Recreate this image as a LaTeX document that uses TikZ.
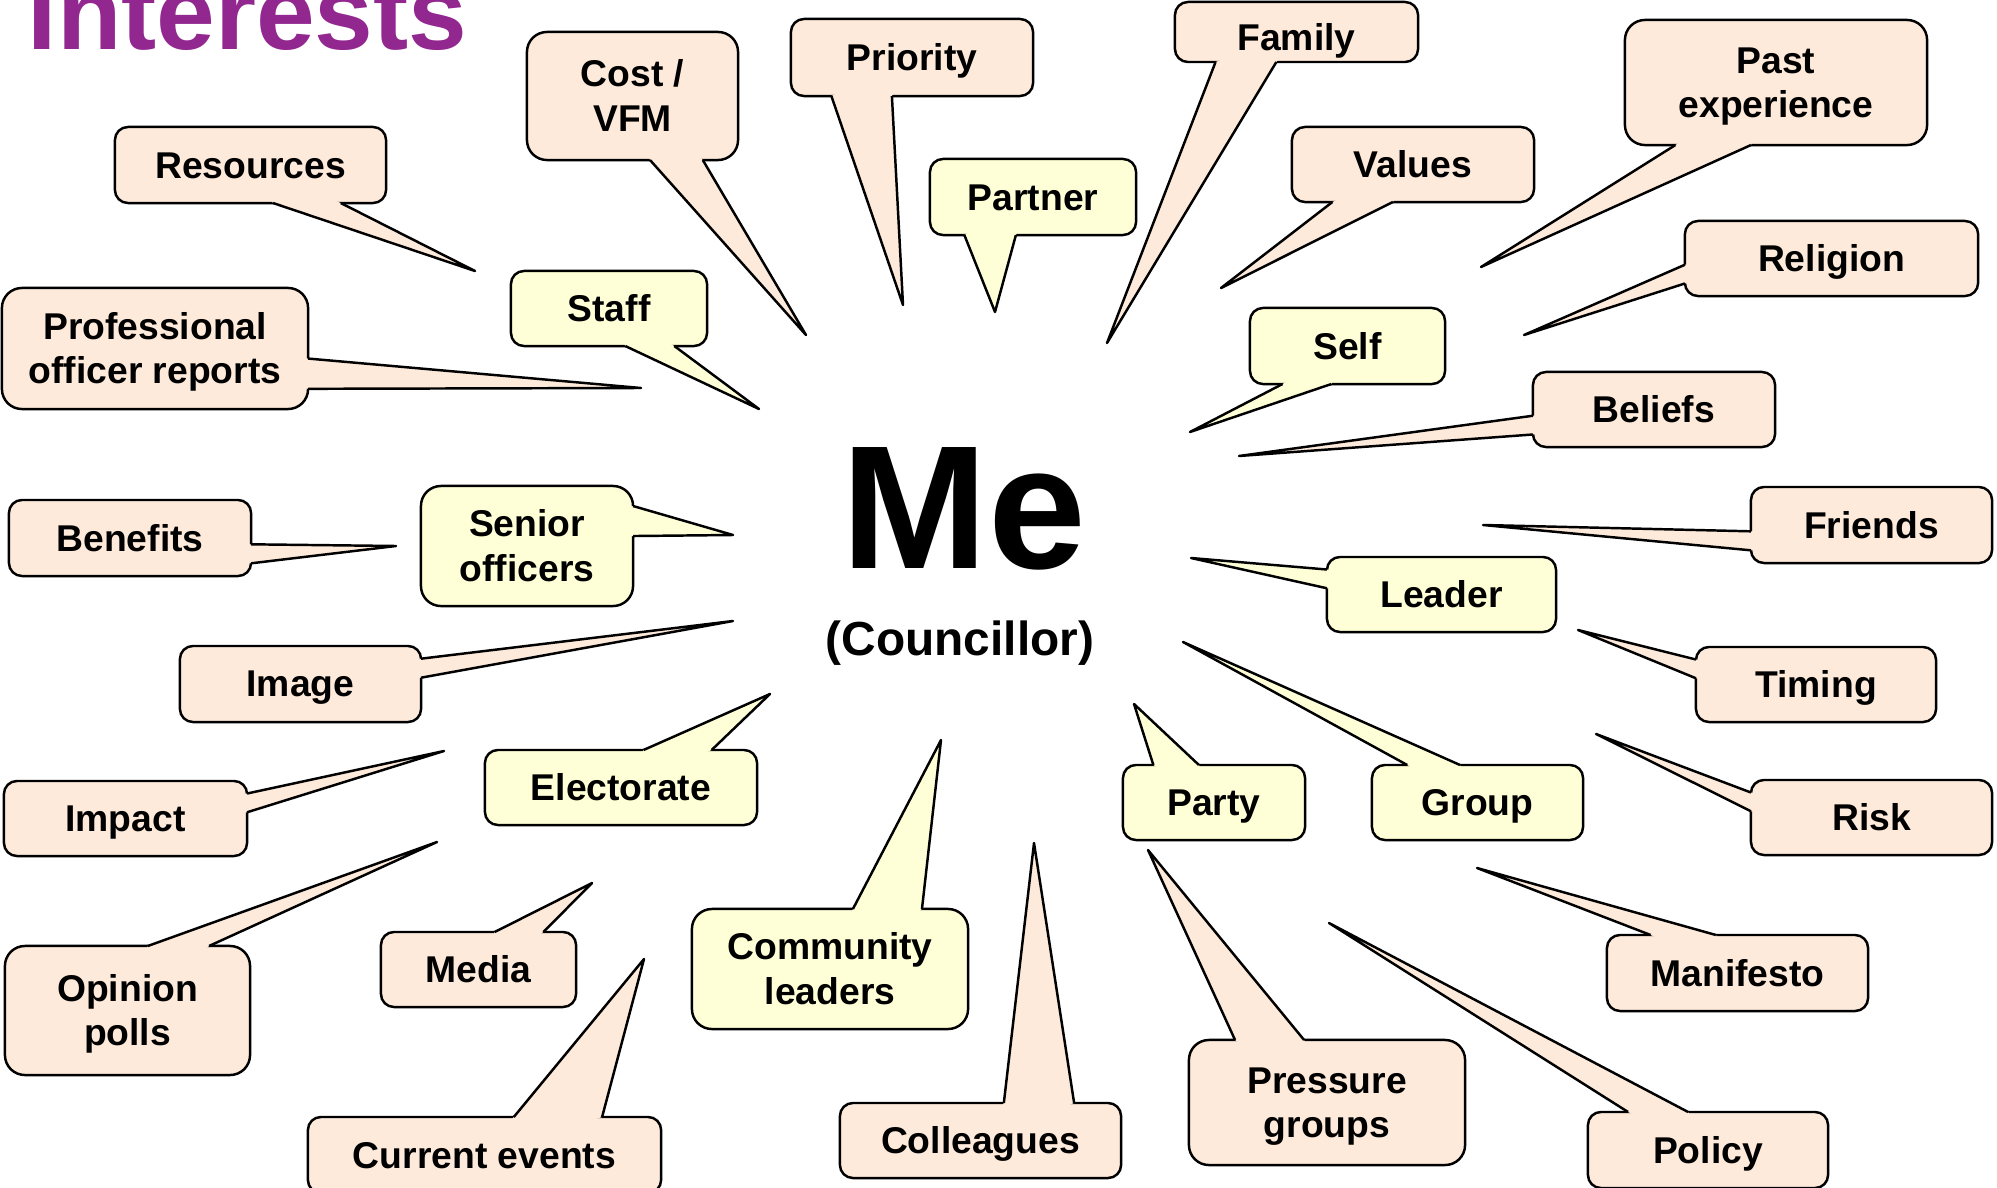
\documentclass[tikz,border=0pt]{standalone}
\usepackage{fontspec}
\setmainfont{Liberation Sans}
\usepackage{xcolor}
\usetikzlibrary{calc}

\definecolor{peach}{RGB}{253,234,218}
\definecolor{cream}{RGB}{255,255,215}
\definecolor{plum}{RGB}{146,39,143}

% line box of one text line, as the slide sets it
\newcommand{\linestrut}{\rule[-0.205em]{0pt}{1.11em}}
% wedge of a callout: node, edge from/to anchors, base fractions, tip, fill
\newcommand{\pointer}[7]{%
  \coordinate (#1-a) at ($(#1.#2)!#4!(#1.#3)$);
  \coordinate (#1-b) at ($(#1.#2)!#5!(#1.#3)$);
  \fill[#7] ($(#1-a)!2pt!(#1.center)$) -- (#1-a) -- #6 -- (#1-b) -- ($(#1-b)!2pt!(#1.center)$) -- cycle;
  \draw[line width=0.7pt, line join=round] (#1-a) -- #6 -- (#1-b);
}

\begin{document}
\begin{tikzpicture}[
        x=0.01cm, y=-0.01cm,
        bubble/.style={draw, line width=0.7pt, outer sep=0pt, inner sep=0pt,
            rounded corners=1.3mm, align=center,
            font=\fontsize{10.6}{12.6}\selectfont\bfseries,
            execute at begin node=\linestrut},
        tan/.style={bubble, fill=peach},
        pale/.style={bubble, fill=cream},
        tall/.style={rounded corners=2mm, execute at begin node={}}
    ]
    \useasboundingbox (0,0) rectangle (1997,1188);

    % Title and centre
    \node[anchor=base west, inner sep=0pt, text=plum,
        font=\fontsize{30}{36}\selectfont\bfseries] (title) at (27,50) {Interests};
    \node[anchor=base, inner sep=0pt,
        font=\fontsize{50}{60}\selectfont\bfseries] (me) at (964,568) {Me};
    \node[anchor=base, inner sep=0pt,
        font=\fontsize{13.6}{15}\selectfont\bfseries] (role) at (960,655) {(Councillor)};

    % Upper left
    \node[tan, minimum width=2.71cm, minimum height=0.76cm] (res) at (250.5,165) {Resources};
    \pointer{res}{south west}{south east}{.583}{.833}{(475,271)}{peach}
    \node[tan, tall, minimum width=2.11cm, minimum height=1.28cm] (cost) at (632.5,96) {\linestrut Cost /\\VFM\linestrut};
    \pointer{cost}{south west}{south east}{.583}{.833}{(806,335)}{peach}
    \node[tan, minimum width=2.42cm, minimum height=0.77cm] (prio) at (912,57.5) {Priority};
    \pointer{prio}{south west}{south east}{.167}{.417}{(903,305)}{peach}
    \node[pale, minimum width=2.06cm, minimum height=0.76cm] (partner) at (1033,197) {Partner};
    \pointer{partner}{south west}{south east}{.167}{.417}{(995,312)}{cream}
    \node[pale, minimum width=1.96cm, minimum height=0.75cm] (staff) at (609,308.5) {Staff};
    \pointer{staff}{south west}{south east}{.583}{.833}{(759,409)}{cream}
    \node[tan, tall, minimum width=3.06cm, minimum height=1.21cm] (prof) at (155,348.5) {\linestrut Professional\\officer reports\linestrut};
    \pointer{prof}{north east}{south east}{.583}{.833}{(641,388)}{peach}

    % Upper right
    \node[tan, minimum width=2.43cm, minimum height=0.60cm] (family) at (1296.5,32) {\raisebox{-0.055cm}[0pt][0pt]{Family}};
    \pointer{family}{south west}{south east}{.167}{.417}{(1107,343)}{peach}
    \node[tan, minimum width=2.42cm, minimum height=0.75cm] (values) at (1413,164.5) {Values};
    \pointer{values}{south west}{south east}{.167}{.417}{(1221,288)}{peach}
    \node[tan, tall, minimum width=3.02cm, minimum height=1.25cm] (past) at (1776,82.5) {\linestrut Past\\experience\linestrut};
    \pointer{past}{south west}{south east}{.167}{.417}{(1481,267)}{peach}
    \node[tan, minimum width=2.93cm, minimum height=0.75cm] (religion) at (1831.5,258.5) {Religion};
    \pointer{religion}{north west}{south west}{.583}{.833}{(1524,335)}{peach}
    \node[pale, minimum width=1.95cm, minimum height=0.76cm] (self) at (1347.5,346) {Self};
    \pointer{self}{south west}{south east}{.167}{.417}{(1190,432)}{cream}
    \node[tan, minimum width=2.42cm, minimum height=0.75cm] (beliefs) at (1654,409.5) {Beliefs};
    \pointer{beliefs}{north west}{south west}{.583}{.833}{(1239,456)}{peach}

    % Left side
    \node[tan, minimum width=2.42cm, minimum height=0.76cm] (benefits) at (130,538) {Benefits};
    \pointer{benefits}{north east}{south east}{.583}{.833}{(396,546)}{peach}
    \node[pale, tall, minimum width=2.12cm, minimum height=1.20cm] (senior) at (527,546) {\linestrut Senior\\officers\linestrut};
    \pointer{senior}{north east}{south east}{.167}{.417}{(733,535)}{cream}
    \node[tan, minimum width=2.41cm, minimum height=0.76cm] (image) at (300.5,684) {Image};
    \pointer{image}{north east}{south east}{.167}{.417}{(733,621)}{peach}
    \node[tan, minimum width=2.43cm, minimum height=0.75cm] (impact) at (125.5,818.5) {Impact};
    \pointer{impact}{north east}{south east}{.167}{.417}{(444,751)}{peach}
    \node[pale, minimum width=2.72cm, minimum height=0.75cm] (elect) at (621,787.5) {Electorate};
    \pointer{elect}{north west}{north east}{.583}{.833}{(770,694)}{cream}

    % Bottom
    \node[tan, tall, minimum width=2.45cm, minimum height=1.29cm] (opinion) at (127.5,1010.5) {\linestrut Opinion\\polls\linestrut};
    \pointer{opinion}{north west}{north east}{.583}{.833}{(437,842)}{peach}
    \node[tan, minimum width=1.95cm, minimum height=0.75cm] (media) at (478.5,969.5) {Media};
    \pointer{media}{north west}{north east}{.583}{.833}{(592,883)}{peach}
    \node[tan, minimum width=3.53cm, minimum height=0.76cm] (current) at (484.5,1155) {Current events};
    \pointer{current}{north west}{north east}{.583}{.833}{(644,959)}{peach}
    \node[pale, tall, minimum width=2.76cm, minimum height=1.20cm] (community) at (830,969) {\linestrut Community\\leaders\linestrut};
    \pointer{community}{north west}{north east}{.583}{.833}{(941,740)}{cream}
    \node[tan, minimum width=2.81cm, minimum height=0.75cm] (colleagues) at (980.5,1140.5) {Colleagues};
    \pointer{colleagues}{north west}{north east}{.583}{.833}{(1034,843)}{peach}
    \node[pale, minimum width=1.82cm, minimum height=0.75cm] (party) at (1214,802.5) {Party};
    \pointer{party}{north west}{north east}{.167}{.417}{(1134,704)}{cream}
    \node[pale, minimum width=2.11cm, minimum height=0.75cm] (group) at (1477.5,802.5) {Group};
    \pointer{group}{north west}{north east}{.167}{.417}{(1183,642)}{cream}
    \node[tan, tall, minimum width=2.76cm, minimum height=1.25cm] (pressure) at (1327,1102.5) {\linestrut Pressure\\groups\linestrut};
    \pointer{pressure}{north west}{north east}{.167}{.417}{(1148,850)}{peach}
    \node[tan, minimum width=2.61cm, minimum height=0.76cm] (manifesto) at (1737.5,973) {Manifesto};
    \pointer{manifesto}{north west}{north east}{.167}{.417}{(1477,868)}{peach}
    \node[tan, minimum width=2.40cm, minimum height=0.76cm] (policy) at (1708,1150) {Policy};
    \pointer{policy}{north west}{north east}{.167}{.417}{(1329,923)}{peach}

    % Right side
    \node[pale, minimum width=2.29cm, minimum height=0.75cm] (leader) at (1441.5,594.5) {Leader};
    \pointer{leader}{north west}{south west}{.167}{.417}{(1191,558)}{cream}
    \node[tan, minimum width=2.41cm, minimum height=0.76cm] (friends) at (1871.5,525) {Friends};
    \pointer{friends}{north west}{south west}{.583}{.833}{(1483,525)}{peach}
    \node[tan, minimum width=2.40cm, minimum height=0.75cm] (timing) at (1816,684.5) {Timing};
    \pointer{timing}{north west}{south west}{.167}{.417}{(1578,630)}{peach}
    \node[tan, minimum width=2.41cm, minimum height=0.75cm] (risk) at (1871.5,817.5) {Risk};
    \pointer{risk}{north west}{south west}{.167}{.417}{(1596,734)}{peach}
\end{tikzpicture}
\end{document}
